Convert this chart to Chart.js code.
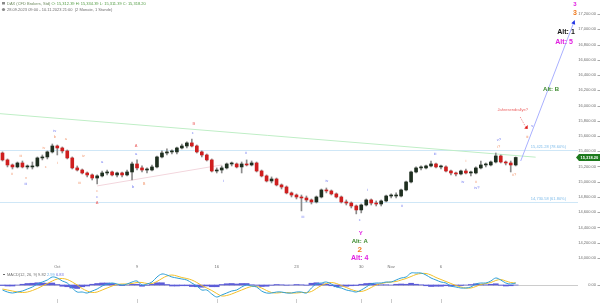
<!DOCTYPE html>
<html>
<head>
<meta charset="utf-8">
<title>DAX (CFD Brokers, Std)</title>
<script src="https://cdn.jsdelivr.net/npm/chart.js@4.4.0/dist/chart.umd.min.js"></script>
<style>
  html, body { margin: 0; padding: 0; background: #fff; }
  #wrap { position: relative; width: 600px; height: 303px; overflow: hidden; }
  canvas { display: block; }
</style>
</head>
<body>
<div id="wrap">
  <canvas id="price" width="600" height="272"></canvas>
  <canvas id="macd" width="600" height="31"></canvas>
</div>
<script>
// DAX CFD, candles 28.09.2023 - 10.11.2023
const SLOTS = 116;   // candle slots incl. empty space on the right
const tickIdx = [11, 27, 43, 59, 72, 78, 88];
const tickText = ['Oct', '9', '16', '23', '30', 'Nov', '6'];
const yTicks = [14000, 14200, 14400, 14600, 14800, 15000, 15200, 15400,
                15600, 15800, 16000, 16200, 16400, 16600, 16800, 17000, 17200];

const opens = [
  15377,15286,15220,15194,15246,15194,15194,15207,15312,15325,
  15391,15469,15443,15404,15312,15181,15154,15115,15089,15049,
  15076,15115,15128,15089,15115,15089,15128,15233,15181,15154,
  15154,15194,15325,15377,15391,15391,15443,15469,15509,15469,
  15391,15351,15286,15141,15154,15181,15233,15233,15194,15233,
  15220,15246,15141,15076,15010,15036,14958,14931,14853,14826,
  14800,14787,14761,14735,14800,14892,14879,14840,14800,14735,
  14721,14682,14630,14695,14761,14721,14708,14748,14813,14813,
  14813,14892,14997,15128,15181,15181,15207,15233,15194,15194,
  15141,15115,15102,15141,15115,15115,15181,15220,15220,15259,
  15338,15259,15246,15220
];
const highs = [
  15391,15299,15233,15259,15272,15220,15259,15325,15351,15404,
  15495,15482,15456,15417,15325,15207,15167,15128,15102,15089,
  15141,15154,15141,15128,15128,15154,15259,15286,15207,15181,
  15220,15338,15404,15430,15417,15456,15495,15522,15561,15482,
  15404,15364,15299,15181,15207,15246,15259,15246,15259,15286,
  15272,15259,15154,15089,15063,15049,14971,14945,14866,14840,
  14826,14813,14774,14813,14905,14918,14892,14853,14813,14761,
  14735,14695,14708,14774,14774,14748,14761,14826,14840,14853,
  14905,15010,15141,15194,15207,15220,15272,15246,15220,15207,
  15154,15128,15154,15167,15141,15194,15272,15246,15272,15377,
  15351,15272,15272,15325
];
const lows = [
  15272,15194,15167,15181,15181,15167,15167,15194,15286,15299,
  15377,15351,15377,15299,15167,15141,15102,15063,15023,14971,
  15063,15089,15076,15063,15063,15076,15023,15154,15128,15115,
  15141,15181,15312,15351,15364,15364,15430,15443,15456,15377,
  15325,15272,15128,15115,15115,15167,15207,15181,15115,15207,
  15207,15128,15063,14997,14984,14945,14905,14840,14800,14774,
  14617,14735,14708,14721,14787,14853,14826,14787,14721,14695,
  14656,14578,14591,14682,14695,14682,14682,14735,14787,14787,
  14800,14879,14984,15115,15154,15167,15194,15181,15167,15128,
  15089,15076,15089,15102,15076,15102,15167,15194,15207,15246,
  15246,15220,15128,15207
];
const closes = [
  15286,15220,15194,15246,15194,15194,15207,15312,15325,15391,
  15469,15443,15404,15312,15181,15154,15115,15089,15049,15076,
  15115,15128,15089,15115,15089,15128,15233,15181,15154,15154,
  15194,15325,15377,15391,15391,15443,15469,15509,15469,15391,
  15351,15286,15141,15154,15181,15233,15233,15194,15233,15220,
  15246,15141,15076,15010,15036,14958,14931,14853,14826,14800,
  14787,14761,14735,14800,14892,14879,14840,14800,14735,14721,
  14682,14630,14695,14761,14721,14708,14748,14813,14813,14813,
  14892,14997,15128,15181,15181,15207,15233,15194,15194,15141,
  15115,15102,15141,15115,15115,15181,15220,15220,15259,15338,
  15259,15246,15220,15318.2
];

// MACD(12, 26, 9) panel
const macdLine = [
  -20,-28,-32,-28,-24,-16,-8,4,12,20,
  32,28,16,8,-12,-28,-28,-32,-24,-16,
  -4,4,8,4,0,4,12,16,0,4,
  12,32,44,40,32,28,24,20,8,-4,
  -20,-20,-36,-48,-40,-32,-24,-20,-8,0,
  -4,-8,-24,-32,-32,-28,-28,-32,-32,-28,
  -28,-32,-12,4,8,12,4,-8,-12,-20,
  -24,-28,-20,-8,4,8,8,12,12,20,
  28,32,48,48,48,40,28,20,12,8,
  -4,-8,-12,-12,-8,4,8,8,16,28,
  20,8,4,8
];
const signalLine = [
  -16,-20,-24,-28,-30,-28,-22,-14,-4,6,
  16,24,26,22,12,0,-14,-24,-30,-28,
  -20,-12,-4,2,4,4,6,10,10,6,
  6,14,26,36,40,36,30,26,20,10,
  -2,-12,-22,-34,-44,-42,-36,-28,-20,-12,
  -6,-6,-12,-22,-30,-32,-30,-30,-32,-32,
  -30,-30,-26,-14,-2,6,10,6,-2,-10,
  -18,-24,-26,-20,-10,0,6,10,12,14,
  20,26,34,42,46,46,40,30,22,14,
  6,-2,-8,-12,-12,-6,2,6,10,18,
  22,16,10,8
];
const macdHist = [
  -2,-4,-4,0,3,6,7,9,8,7,
  8,2,-5,-7,-12,-14,-7,-4,3,6,
  8,8,6,1,-2,0,3,3,-5,-1,
  3,9,9,2,-4,-4,-3,-3,-6,-7,
  -9,-4,-7,-7,2,5,6,4,6,6,
  1,-1,-6,-5,-1,2,1,-1,0,2,
  1,-1,7,9,5,3,-3,-7,-5,-5,
  -3,-2,3,6,7,4,1,1,0,3,
  4,3,7,3,1,-3,-6,-5,-5,-3,
  -5,-3,-2,0,2,5,3,1,3,5,
  -1,-4,-3,0
];

const fibLevels = [15421.28, 14730.58];
const fibText = ['15,421.28 (78.60%)', '14,730.58 (61.80%)'];
const lastPrice = 15318.20;

// lines: [startIndex, startValue, endIndex, endValue]
const greenTrend = [-0.5, 15893, 107, 15322];
const pinkTrend = [19, 14945, 44, 15220];
const projection = [104, 15272, 114.7, 17096];
const rallyArrow = [103.9, 15849, 105, 15718];

// wave labels: [index, value, text, colour]
const waveLabels = [
  [10.5, 15666, 'iv', 'b'], [4.7, 14971, 'iii', 'b'], [20, 15259, 'a', 'b'],
  [19, 14800, 'c', 'b'], [26.2, 14931, 'b', 'b'], [26.8, 15364, 'a', 'b'],
  [38.2, 15640, 'c', 'b'], [44.3, 15010, 'i', 'b'], [48.9, 15377, 'ii', 'b'],
  [60.3, 14538, 'iii', 'b'], [65.1, 15010, 'iv', 'b'], [71.7, 14499, 'c', 'b'],
  [73.2, 14892, 'i', 'b'], [80.2, 14682, 'ii', 'b'], [86.8, 15364, 'iii', 'b'],
  [92.4, 14997, 'iv', 'b'], [95.2, 14918, 'iv?', 'b'], [99.6, 15548, 'v?', 'b'],
  [106.3, 15731, 'v', 'b'],
  [3.7, 15338, 'iii', 'o'], [1.9, 15102, 'ii', 'o'], [4.7, 15049, 'v', 'o'],
  [8.3, 15443, 'iv', 'o'], [8.7, 15194, 'c', 'o'], [10.5, 15587, 'b', 'o'],
  [11.1, 15246, 'i', 'o'], [12.7, 15561, 'a', 'o'], [16.2, 15338, 'iv', 'o'],
  [15.4, 14984, 'iii', 'o'], [19, 14879, 'c', 'o'], [28.4, 14971, 'B', 'o'],
  [93, 15272, 'i', 'o'], [95, 14997, 'ii', 'o'], [99.6, 15456, 'i?', 'o'],
  [102.7, 15089, 'ii?', 'o'], [105.3, 15587, 'iii', 'o'],
  [19, 14722, 'A', 'r'], [26.8, 15469, 'A', 'r'], [38.4, 15758, 'B', 'r']
];
// big labels: [index, value, text, colour, font size]
const bigLabels = [
  [114.9, 17332, '3', 'm', 6], [114.9, 17213, '3', 'd', 7],
  [113.1, 16964, 'Alt: 1', 'k', 7], [112.7, 16833, 'Alt: 5', 'm', 7],
  [110.1, 16217, 'Alt: B', 'g', 6],
  [71.9, 14328, 'Y', 'm', 6], [71.7, 14223, 'Alt: A', 'g', 6],
  [71.7, 14105, '2', 'd', 8], [71.7, 14000, 'Alt: 4', 'm', 7],
  [102.4, 15941, 'Jahresendrallye?', 'r', 4]
];

const headerName = 'DAX (CFD Brokers, Std)';
const headerOHLC = 'O: 15,312.39 H: 15,334.39 L: 15,311.39 C: 15,318.20';
const headerRange = '28.09.2023 09:00 - 10.11.2023 21:00  (2 Monate, 1 Stunde)';

const COLORS = { b: '#6f78f0', o: '#f39a72', r: '#ec5f5f', m: '#e01ee0', g: '#3a8a2c', k: '#111111', d: '#f07a1e' };
const FONT = '"Liberation Sans", Arial, sans-serif';
const AXIS = '#6e6e6e';
const UP = '#1f2f20';
const DOWN = '#cf1f1f';

const xLabels = Array(SLOTS).fill('');
tickIdx.forEach((idx, k) => { xLabels[idx] = tickText[k]; });

const fmt = v => v.toLocaleString('en-US', { minimumFractionDigits: 2, maximumFractionDigits: 2 });

function segPx(chart, seg) {
  const { x, y } = chart.scales;
  return [x.getPixelForValue(seg[0]), y.getPixelForValue(seg[1]),
          x.getPixelForValue(seg[2]), y.getPixelForValue(seg[3])];
}

const priceOverlay = {
  id: 'priceOverlay',
  beforeDatasetsDraw(chart) {
    const { ctx, chartArea: a, scales: { y } } = chart;
    ctx.save();
    ctx.lineWidth = 1;
    ctx.strokeStyle = '#cfe7f7';
    fibLevels.forEach(v => {
      const py = Math.round(y.getPixelForValue(v)) + 0.5;
      ctx.beginPath(); ctx.moveTo(a.left, py); ctx.lineTo(a.right, py); ctx.stroke();
    });
    [[greenTrend, '#bfeec6'], [pinkTrend, '#f3d6dd']].forEach(([seg, col]) => {
      const p = segPx(chart, seg);
      ctx.strokeStyle = col;
      ctx.beginPath(); ctx.moveTo(p[0], p[1]); ctx.lineTo(p[2], p[3]); ctx.stroke();
    });
    ctx.restore();
  },
  afterDatasetsDraw(chart) {
    const { ctx, chartArea: a, scales: { x, y } } = chart;
    ctx.save();

    // projection towards wave 3
    const p = segPx(chart, projection);
    ctx.strokeStyle = '#a9b0ff';
    ctx.lineWidth = 1;
    ctx.beginPath(); ctx.moveTo(p[0], p[1]); ctx.lineTo(p[2], p[3]); ctx.stroke();
    const ang = Math.atan2(p[3] - p[1], p[2] - p[0]);
    ctx.fillStyle = '#2336e6';
    ctx.beginPath();
    ctx.moveTo(p[2] + Math.cos(ang) * 2, p[3] + Math.sin(ang) * 2);
    ctx.lineTo(p[2] + Math.cos(ang + 2.4) * 3, p[3] + Math.sin(ang + 2.4) * 3);
    ctx.lineTo(p[2] + Math.cos(ang - 2.4) * 3, p[3] + Math.sin(ang - 2.4) * 3);
    ctx.closePath(); ctx.fill();

    // dotted arrow from the year-end rally note
    const r = segPx(chart, rallyArrow);
    ctx.strokeStyle = '#f08a8a';
    ctx.setLineDash([1, 1]);
    ctx.beginPath(); ctx.moveTo(r[0], r[1]); ctx.lineTo(r[2], r[3]); ctx.stroke();
    ctx.setLineDash([]);
    ctx.fillStyle = '#e01818';
    ctx.beginPath();
    ctx.moveTo(r[2] + 2, r[3] - 2); ctx.lineTo(r[2] + 2, r[3] + 2); ctx.lineTo(r[2] - 1.5, r[3] + 1.5);
    ctx.closePath(); ctx.fill();

    ctx.textAlign = 'center';
    ctx.textBaseline = 'middle';
    ctx.font = '4px ' + FONT;
    waveLabels.forEach(([i, v, t, c]) => {
      ctx.fillStyle = COLORS[c];
      ctx.fillText(t, x.getPixelForValue(i), y.getPixelForValue(v));
    });
    bigLabels.forEach(([i, v, t, c, s]) => {
      ctx.fillStyle = COLORS[c];
      ctx.font = (s >= 6 ? 'bold ' : '') + s + 'px ' + FONT;
      ctx.fillText(t, x.getPixelForValue(i), y.getPixelForValue(v));
    });

    // fibonacci captions
    ctx.font = '4px ' + FONT;
    ctx.textAlign = 'right';
    ctx.fillStyle = '#7fbcea';
    fibLevels.forEach((v, k) => {
      ctx.fillText(fibText[k], a.right - 12, y.getPixelForValue(v) - 3);
    });

    // axis labels, placed through the chart scales
    ctx.fillStyle = AXIS;
    ctx.strokeStyle = '#a8a8a8';
    yTicks.forEach(v => {
      const py = y.getPixelForValue(v);
      ctx.fillText(fmt(v), 596, py);
      ctx.beginPath(); ctx.moveTo(597.5, Math.round(py) + 0.5); ctx.lineTo(600, Math.round(py) + 0.5); ctx.stroke();
    });
    ctx.textAlign = 'center';
    tickIdx.forEach((idx, k) => {
      ctx.fillText(tickText[k], x.getPixelForValue(idx), a.bottom + 5);
    });

    // last price tag
    const py = y.getPixelForValue(lastPrice);
    ctx.fillStyle = '#1d7a1d';
    ctx.beginPath();
    ctx.moveTo(a.right - 2, py);
    ctx.lineTo(a.right + 1, py - 3.5); ctx.lineTo(600, py - 3.5);
    ctx.lineTo(600, py + 3.5); ctx.lineTo(a.right + 1, py + 3.5);
    ctx.closePath(); ctx.fill();
    ctx.fillStyle = '#ffffff';
    ctx.textAlign = 'left';
    ctx.font = 'bold 4px ' + FONT;
    ctx.fillText(fmt(lastPrice), a.right + 2.5, py + 0.3);

    // header
    ctx.font = '4px ' + FONT;
    ctx.fillStyle = '#8a8a8a';
    ctx.fillRect(2, 2, 3, 2.5);
    ctx.beginPath(); ctx.arc(3.5, 9.5, 1.6, 0, Math.PI * 2); ctx.fill();
    ctx.fillStyle = '#6d8a5e';
    ctx.fillText(headerName, 7, 3.5);
    const w = ctx.measureText(headerName + ' ').width;
    ctx.fillStyle = '#4f9a40';
    ctx.fillText(headerOHLC, 7 + w, 3.5);
    ctx.fillStyle = '#6e6e6e';
    ctx.fillText(headerRange, 7, 10);
    ctx.restore();
  }
};

new Chart(document.getElementById('price'), {
  type: 'bar',
  data: {
    labels: xLabels,
    datasets: [
      {
        label: 'body',
        data: opens.map((o, i) => [o, closes[i]]),
        backgroundColor: closes.map((c, i) => c >= opens[i] ? UP : DOWN),
        barThickness: 3,
        minBarLength: 1,
        grouped: false
      },
      {
        label: 'wick',
        data: lows.map((l, i) => [l, highs[i]]),
        backgroundColor: '#8c8c8c',
        barThickness: 1,
        grouped: false
      }
    ]
  },
  options: {
    responsive: false,
    animation: false,
    events: [],
    layout: { padding: 0 },
    plugins: { legend: { display: false }, tooltip: { enabled: false } },
    scales: {
      x: {
        offset: true,
        grid: { display: false },
        border: { display: false },
        ticks: { display: false },
        afterFit: s => { s.height = 10; s.paddingLeft = 0; s.paddingRight = 0; }
      },
      y: {
        position: 'right',
        min: 13947,
        max: 17384,
        grid: { display: false },
        border: { display: false },
        ticks: { display: false },
        afterFit: s => { s.width = 22; s.paddingTop = 0; s.paddingBottom = 0; }
      }
    }
  },
  plugins: [priceOverlay]
});

const macdOverlay = {
  id: 'macdOverlay',
  beforeDatasetsDraw(chart) {
    const { ctx, chartArea: a, scales: { y } } = chart;
    const py = Math.round(y.getPixelForValue(0)) + 0.5;
    ctx.save();
    ctx.strokeStyle = '#cccccc';
    ctx.lineWidth = 1;
    ctx.beginPath(); ctx.moveTo(a.left, py); ctx.lineTo(a.right, py); ctx.stroke();
    ctx.restore();
  },
  afterDraw(chart) {
    const { ctx, chartArea: a, scales: { x, y } } = chart;
    ctx.save();
    ctx.strokeStyle = '#cccccc';
    ctx.lineWidth = 1;
    tickIdx.forEach(idx => {
      const px = Math.round(x.getPixelForValue(idx)) + 0.5;
      ctx.beginPath(); ctx.moveTo(px, a.bottom - 4); ctx.lineTo(px, a.bottom); ctx.stroke();
    });
    ctx.font = '4px ' + FONT;
    ctx.textBaseline = 'middle';
    ctx.textAlign = 'right';
    ctx.fillStyle = AXIS;
    const zy = y.getPixelForValue(0);
    ctx.fillText(fmt(0), 596, zy);
    ctx.strokeStyle = '#a8a8a8';
    ctx.beginPath(); ctx.moveTo(597.5, Math.round(zy) + 0.5); ctx.lineTo(600, Math.round(zy) + 0.5); ctx.stroke();
    ctx.textAlign = 'left';
    ctx.fillStyle = '#666';
    ctx.fillRect(3, 2, 2, 1);
    const parts = [['MACD(12, 26, 9) 9.82', '#6e6e6e'], ['2.99', '#6fb0e6'], ['6.83', '#7070dc']];
    let px = 7;
    parts.forEach(([t, c]) => {
      ctx.fillStyle = c;
      ctx.fillText(t, px, 2.5);
      px += ctx.measureText(t + ' ').width;
    });
    ctx.restore();
  }
};

new Chart(document.getElementById('macd'), {
  type: 'bar',
  data: {
    labels: xLabels,
    datasets: [
      {
        type: 'line', label: 'MACD', data: macdLine,
        borderColor: '#2e9fd6', borderWidth: 1, pointRadius: 0, tension: 0.35
      },
      {
        type: 'line', label: 'Signal', data: signalLine,
        borderColor: '#f3c12a', borderWidth: 1, pointRadius: 0, tension: 0.35
      },
      {
        label: 'Histogram', data: macdHist,
        backgroundColor: '#5d5dd8',
        barPercentage: 1, categoryPercentage: 1
      }
    ]
  },
  options: {
    responsive: false,
    animation: false,
    events: [],
    layout: { padding: 0 },
    plugins: { legend: { display: false }, tooltip: { enabled: false } },
    scales: {
      x: { display: false, offset: true },
      y: {
        position: 'right',
        min: -72,
        max: 52,
        grid: { display: false },
        border: { display: false },
        ticks: { display: false },
        afterFit: s => { s.width = 22; s.paddingTop = 0; s.paddingBottom = 0; }
      }
    }
  },
  plugins: [macdOverlay]
});
</script>
</body>
</html>
